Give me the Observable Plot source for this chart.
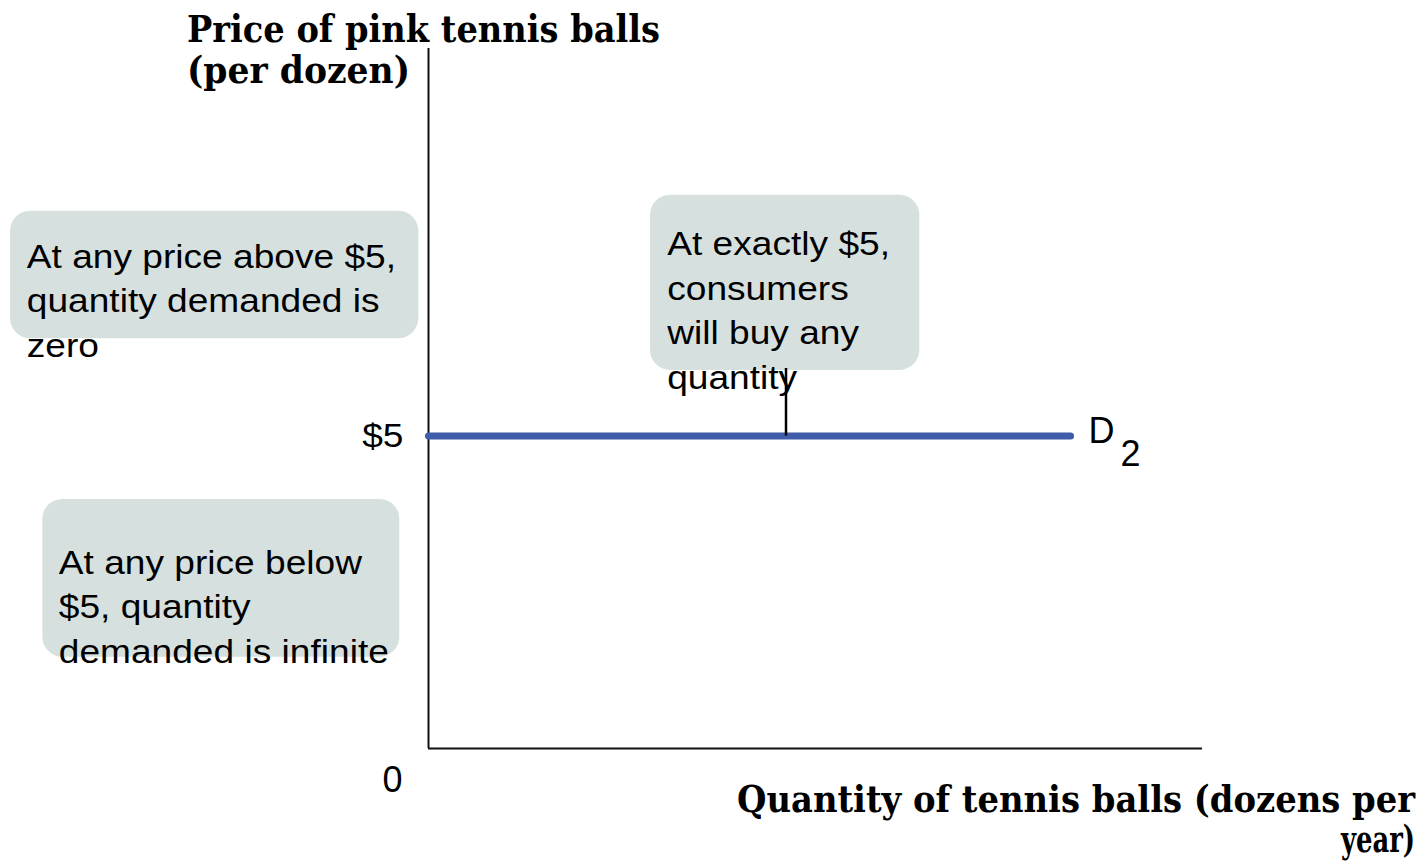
<!DOCTYPE html>
<html><head><meta charset="utf-8">
<script src="https://cdn.jsdelivr.net/npm/d3@7"></script>
<script src="https://cdn.jsdelivr.net/npm/@observablehq/plot@0.6"></script>
<style>
html,body{margin:0;padding:0;background:#fff;}
#chart{position:relative;width:1428px;height:865px;overflow:hidden;}
#chart svg{display:block;}
</style></head><body><div id="chart"></div>
<script>
// ---- Data ----
const yTitle = ["Price of pink tennis balls", "(per dozen)"];
const xTitle = ["Quantity of tennis balls (dozens per", "year)"];
const priceTicks = [5];
const priceTickLabels = ["$5"];
const originLabel = ["0"];
const demandQ = [0, 82.95];
const demandP = [5, 5];
const demandName = ["D", "2"];
const noteText = [
  "At any price above $5,\nquantity demanded is\nzero",
  "At exactly $5,\nconsumers\nwill buy any\nquantity",
  "At any price below\n$5, quantity\ndemanded is infinite"
];
const noteQ = [-51.9, 30.84, -47.77];
const noteP = [8.201, 8.398, 3.303];
const boxQ1 = [-54.0, 28.68, -49.83];
const boxQ2 = [-1.25, 63.48, -3.71];
const boxP1 = [6.557, 6.050, 1.461];
const boxP2 = [8.595, 8.851, 3.985];
const pointerQ = [46.19];
const pointerP1 = [5];
const pointerP2 = [6.08];
const qMax = 100, pMax = 11.2;

// ---- Build ----
const demand = demandQ.map((q, i) => ({q, p: demandP[i]}));
const boxes = boxQ1.map((d, i) => ({x1: boxQ1[i], x2: boxQ2[i], y1: boxP1[i], y2: boxP2[i]}));
const notes = noteText.map((t, i) => ({text: t, q: noteQ[i], p: noteP[i]}));
const pointer = pointerQ.map((q, i) => ({q, p1: pointerP1[i], p2: pointerP2[i]}));
const ticks = priceTicks.map((p, i) => ({p, label: priceTickLabels[i]}));
const SANS = "'Liberation Sans', Arial, sans-serif";
const SERIF = "'DejaVu Serif', Georgia, serif";

const svg = Plot.plot({
  width: 1428, height: 865,
  marginLeft: 428, marginRight: 226, marginTop: 48, marginBottom: 117,
  x: {domain: [0, qMax], axis: null},
  y: {domain: [0, pMax], axis: null},
  style: {background: "#fff", overflow: "visible", fontFamily: SANS, color: "#000"},
  marks: [
    Plot.rect(boxes, {x1: "x1", x2: "x2", y1: "y1", y2: "y2", fill: "#D6E1DF", rx: 20}),
    Plot.ruleX([0], {y1: 0, y2: pMax, stroke: "#111", strokeWidth: 2}),
    Plot.ruleY([0], {x1: 0, x2: qMax, stroke: "#111", strokeWidth: 2}),
    Plot.line(demand, {x: "q", y: "p", stroke: "#3F5BAA", strokeWidth: 7}),
    Plot.ruleX(pointer, {x: "q", y1: "p1", y2: "p2", stroke: "#000", strokeWidth: 2.5}),
    Plot.text(notes, {x: "q", y: "p", text: "text", textAnchor: "start", lineAnchor: "top",
      lineHeight: 1.35, fontSize: 33, fill: "#000"}),
    Plot.text(ticks, {x: 0, y: "p", text: "label", textAnchor: "end", dx: -25, fontSize: 33, fill: "#000"}),
    Plot.text(originLabel, {x: 0, y: 0, text: d => d, dx: -36, dy: 32, fontSize: 36, fill: "#000"}),
    Plot.text([demand[demand.length - 1]], {x: "q", y: "p", text: () => demandName[0], textAnchor: "start",
      dx: 18, dy: -5, fontSize: 36, fill: "#000"}),
    Plot.text([demand[demand.length - 1]], {x: "q", y: "p", text: () => demandName[1], textAnchor: "start",
      dx: 50, dy: 18, fontSize: 36, fill: "#000"})
  ]
});

// horizontally stretch the sans annotations (wide text in the original)
const stretchStarts = noteText.map(t => t.split("\n")[0]).concat(priceTickLabels);
svg.querySelectorAll("text").forEach(t => {
  const first = t.querySelector("tspan") ? t.querySelector("tspan").textContent : t.textContent;
  if (!stretchStarts.includes(first)) return;
  const tr = t.getAttribute("transform");
  if (tr && /translate/.test(tr)) {
    t.setAttribute("transform", tr + " scale(1.125,1)");
  } else {
    const x = +(t.getAttribute("x") || 0);
    t.setAttribute("transform", `translate(${x},0) scale(1.125,1) translate(${-x},0)`);
  }
});

// axis titles
const s = d3.select(svg);
const titleSpecs = [
  {text: yTitle[0], x: 187, y: 42, len: 473, size: 38},
  {text: yTitle[1], x: 187, y: 83, len: 223, size: 38},
  {text: xTitle[0], x: 737, y: 812, len: 678, size: 37},
  {text: xTitle[1], x: 1341, y: 852, len: 74, size: 37}
];
titleSpecs.forEach(t => {
  s.append("text")
    .attr("x", t.x).attr("y", t.y)
    .attr("text-anchor", "start")
    .attr("textLength", t.len).attr("lengthAdjust", "spacingAndGlyphs")
    .attr("font-family", SERIF).attr("font-weight", "bold").attr("font-size", t.size)
    .attr("fill", "#000")
    .text(t.text);
});

document.getElementById("chart").appendChild(svg);
</script>
</body></html>
